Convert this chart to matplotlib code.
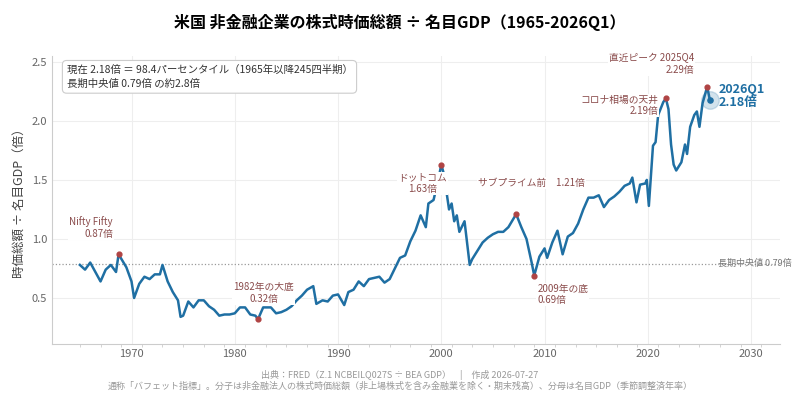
import matplotlib
matplotlib.use("Agg")
import matplotlib.pyplot as plt
import numpy as np

plt.rcParams['font.family'] = ['Noto Sans CJK JP', 'DejaVu Sans']

years = [1965.0,1965.5,1966.0,1966.5,1967.0,1967.5,1968.0,1968.5,1968.75,1969.5,1970.0,1970.25,1970.75,1971.25,1971.75,1972.25,1972.75,1973.0,1973.5,1974.0,1974.5,1974.75,1975.0,1975.5,1976.0,1976.5,1977.0,1977.5,1978.0,1978.5,1979.0,1979.5,1980.0,1980.5,1981.0,1981.5,1982.0,1982.25,1982.75,1983.5,1984.0,1984.5,1985.0,1985.5,1986.0,1986.5,1987.0,1987.6,1987.9,1988.5,1989.0,1989.5,1990.0,1990.6,1991.0,1991.5,1992.0,1992.5,1993.0,1993.5,1994.0,1994.5,1995.0,1995.5,1996.0,1996.5,1997.0,1997.5,1998.0,1998.5,1998.75,1999.25,1999.75,2000.0,2000.25,2000.75,2001.0,2001.25,2001.5,2001.75,2002.25,2002.75,2003.0,2003.5,2004.0,2004.5,2005.0,2005.5,2006.0,2006.5,2007.25,2007.75,2008.25,2008.75,2009.0,2009.5,2010.0,2010.25,2010.75,2011.25,2011.75,2012.25,2012.75,2013.25,2013.75,2014.25,2014.75,2015.25,2015.75,2016.25,2016.75,2017.25,2017.75,2018.25,2018.5,2018.9,2019.25,2019.75,2019.9,2020.1,2020.5,2020.75,2021.0,2021.5,2021.75,2022.0,2022.25,2022.5,2022.75,2023.25,2023.6,2023.8,2024.1,2024.5,2024.75,2025.0,2025.3,2025.75,2026.0]
ratio = [0.78,0.74,0.80,0.72,0.64,0.74,0.78,0.72,0.87,0.76,0.64,0.50,0.62,0.68,0.66,0.70,0.70,0.78,0.64,0.55,0.48,0.34,0.35,0.47,0.42,0.48,0.48,0.43,0.40,0.35,0.36,0.36,0.37,0.42,0.42,0.36,0.35,0.32,0.42,0.42,0.37,0.38,0.40,0.43,0.48,0.52,0.57,0.60,0.45,0.48,0.47,0.52,0.53,0.44,0.55,0.57,0.64,0.60,0.66,0.67,0.68,0.63,0.66,0.75,0.84,0.86,0.98,1.07,1.20,1.10,1.30,1.33,1.52,1.63,1.55,1.25,1.30,1.15,1.20,1.06,1.15,0.78,0.83,0.90,0.97,1.01,1.04,1.06,1.06,1.10,1.21,1.10,1.00,0.80,0.69,0.85,0.92,0.84,0.97,1.07,0.87,1.02,1.05,1.13,1.25,1.35,1.35,1.37,1.27,1.33,1.36,1.40,1.45,1.47,1.52,1.31,1.46,1.47,1.50,1.28,1.79,1.82,2.05,2.16,2.19,2.10,1.80,1.63,1.58,1.65,1.80,1.72,1.95,2.05,2.08,1.95,2.15,2.29,2.18]

median = 0.79
ann_x = [1968.75, 1982.25, 2000.0, 2007.25, 2009.0, 2021.75, 2025.75]
ann_y = [0.87, 0.32, 1.63, 1.21, 0.69, 2.19, 2.29]
ann_text = ["Nifty Fifty\n0.87倍", "1982年の大底\n0.32倍", "ドットコム\n1.63倍", "サブプライム前　1.21倍",
            "2009年の底\n0.69倍", "コロナ相場の天井\n2.19倍", "直近ピーク 2025Q4\n2.29倍"]
ann_pos = [(1968.2, 1.00, 'right', 'bottom'), (1982.8, 0.45, 'center', 'bottom'), (1998.2, 1.38, 'center', 'bottom'),
           (2013.9, 1.43, 'right', 'bottom'), (2009.3, 0.62, 'left', 'top'), (2021.0, 2.04, 'right', 'bottom'),
           (2024.5, 2.39, 'right', 'bottom')]

line_c = '#1f6fa3'
ann_c = '#8a4b4b'

fig, ax = plt.subplots(figsize=(8, 4), dpi=100)
fig.subplots_adjust(left=0.065, right=0.975, top=0.86, bottom=0.14)
ax.plot(years, ratio, color=line_c, lw=1.8, zorder=3)
ax.axhline(median, color='#999999', ls=':', lw=0.9)
ax.text(2026.8, median, '長期中央値 0.79倍', color='#777777', fontsize=6.5, va='center')
ax.scatter(ann_x, ann_y, color='#b04444', s=12, zorder=4)
for t, (tx, ty, ha, va) in zip(ann_text, ann_pos):
    ax.text(tx, ty, t, color=ann_c, fontsize=7, ha=ha, va=va, linespacing=1.2, zorder=6,
            multialignment='right' if ha == 'right' else ha,
            bbox=dict(boxstyle='square,pad=0.1', fc='white', ec='none'))
ax.scatter([years[-1]], [ratio[-1]], s=160, color=line_c, alpha=0.2, zorder=4)
ax.scatter([years[-1]], [ratio[-1]], s=14, color=line_c, zorder=5)
ax.text(2026.9, 2.21, '2026Q1\n2.18倍', color=line_c, fontsize=9, fontweight='bold', va='center', linespacing=1.0)

ax.set_xlim(1962.3, 2032.8)
ax.set_ylim(0.11, 2.55)
ax.set_xticks(range(1970, 2031, 10))
ax.set_xticks(range(1965, 2033, 2), minor=True)
ax.set_yticks([0.5, 1.0, 1.5, 2.0, 2.5])
ax.tick_params(labelsize=8, colors='#666666', length=0)
ax.tick_params(which='minor', length=2, color='#cccccc')
ax.grid(True, color='#eeeeee', lw=0.8)
for s in ['top', 'right']:
    ax.spines[s].set_visible(False)
for s in ['left', 'bottom']:
    ax.spines[s].set_color('#cccccc')
ax.set_ylabel('時価総額 ÷ 名目GDP（倍）', fontsize=9, color='#444444')

ax.text(0.02, 0.97, '現在 2.18倍 ＝ 98.4パーセンタイル（1965年以降245四半期）\n長期中央値 0.79倍 の約2.8倍',
        transform=ax.transAxes, fontsize=7.5, va='top', ha='left', color='#333333', linespacing=1.5,
        bbox=dict(boxstyle='round,pad=0.4', fc='white', ec='#cccccc', lw=0.8))

fig.suptitle('米国 非金融企業の株式時価総額 ÷ 名目GDP（1965-2026Q1）', fontsize=11.5, fontweight='bold', y=0.965)
fig.text(0.5, 0.055, '出典：FRED（Z.1 NCBEILQ027S ÷ BEA GDP）　|　作成 2026-07-27', fontsize=6.5, color='#999999', ha='center')
fig.text(0.5, 0.028, '通称「バフェット指標」。分子は非金融法人の株式時価総額（非上場株式を含み金融業を除く・期末残高）、分母は名目GDP（季節調整済年率）',
         fontsize=6.5, color='#999999', ha='center')
fig.savefig('out.png', dpi=100)
